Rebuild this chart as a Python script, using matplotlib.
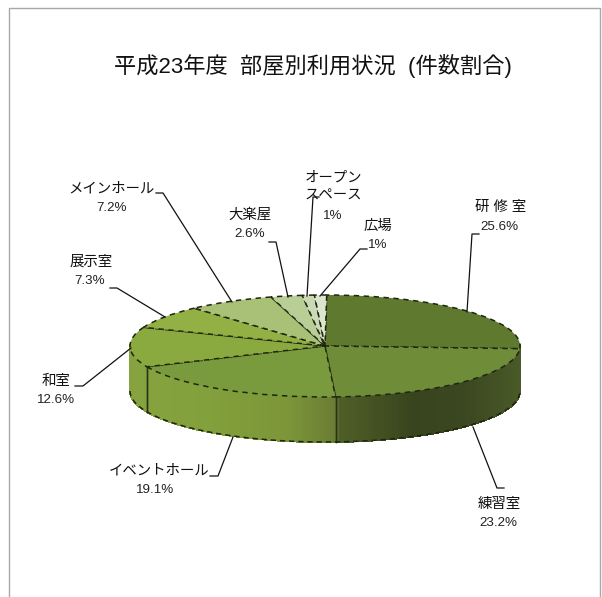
import numpy as np
import matplotlib
matplotlib.use("Agg")
import matplotlib.pyplot as plt
from matplotlib.colors import to_rgb

title = "平成23年度  部屋別利用状況  (件数割合)"
rooms = ["研 修 室", "練習室", "イベントホール", "和室", "展示室", "メインホール", "大楽屋", "オープン\nスペース", "広場"]
shares = [25.6, 23.2, 19.1, 12.6, 7.3, 7.2, 2.6, 1, 1]
share_text = ["25.6%", "23.2%", "19.1%", "12.6%", "7.3%", "7.2%", "2.6%", "1%", "1%"]
top_colors = ["#5f7a2e", "#6f8c39", "#7a9a3e", "#8aa93f", "#93b044", "#a9c077", "#b9cd96", "#cbdab4", "#dce6cf"]

W, H = 602, 597
FONT = ["Liberation Sans", "Noto Sans CJK JP", "DejaVu Sans"]
fig = plt.figure(figsize=(W / 100, H / 100), dpi=100, facecolor="white")

# pie top ellipse lives in its own stretched axes
px0, px1, py0, py1 = 130, 520, 295, 397
ax = fig.add_axes([px0 / W, 1 - py1 / H, (px1 - px0) / W, (py1 - py0) / H])
START = 89.5
edge = "#1d2710"
wedges, _ = ax.pie(shares, colors=top_colors, startangle=START, counterclock=False, radius=1,
                   wedgeprops=dict(edgecolor=edge, linewidth=1.1, linestyle=(0, (3.5, 3))))
ax.set_aspect("auto")
ax.set_xlim(-1, 1)
ax.set_ylim(-1, 1)
ax.patch.set_alpha(0)
for w in wedges:
    w.set_clip_on(False)
    w.set_zorder(5)

# side wall
depth = 45 / ((py1 - py0) / 2)
stops = [(-1.0, "#86a340"), (-0.6, "#82a03c"), (-0.2, "#7c9639"), (0.055, "#6a7c34"),
         (0.065, "#4f5f28"), (0.45, "#38441d"), (0.7, "#3a4720"), (1.0, "#4a5a28")]
sx = [s[0] for s in stops]
scol = np.array([to_rgb(s[1]) for s in stops])
fr = np.cumsum([0] + shares) / sum(shares)
bounds = np.deg2rad(START - fr * 360)
for a, b in zip(bounds[:-1], bounds[1:]):
    ts = np.linspace(a, b, max(int(abs(b - a) * 80), 2))
    for t0, t1 in zip(ts[:-1], ts[1:]):
        if np.sin(t0) > 0.02 and np.sin(t1) > 0.02:
            continue
        xm = (np.cos(t0) + np.cos(t1)) / 2
        c = [np.interp(xm, sx, scol[:, i]) for i in range(3)]
        xs = [np.cos(t0), np.cos(t1), np.cos(t1), np.cos(t0)]
        ys = [np.sin(t0), np.sin(t1), np.sin(t1) - depth, np.sin(t0) - depth]
        ax.fill(xs, ys, facecolor=c, edgecolor=c, lw=0.8, antialiased=False, clip_on=False, zorder=2)
    for t in (a, b):
        if np.sin(t) < -0.1:
            ax.plot([np.cos(t)] * 2, [np.sin(t), np.sin(t) - depth], color="#2a3416", lw=1.0,
                    clip_on=False, zorder=3)
tb = np.deg2rad(np.linspace(180, 360, 200))
ax.plot(np.cos(tb), np.sin(tb) - depth, color=edge, lw=1.1, ls=(0, (3.5, 2.5)), clip_on=False, zorder=4)

# overlay in pixel coordinates
ov = fig.add_axes([0, 0, 1, 1], zorder=10)
ov.set_xlim(0, W)
ov.set_ylim(H, 0)
ov.axis("off")
ov.plot([8.5, 8.5, 600, 600], [H, 7.5, 7.5, H], color="#a8a8a8", lw=1.0, clip_on=False)
ov.text(313, 66, title, ha="center", va="center", fontsize=16, family=FONT, color="#111111")

name_pos = [(501, 207), (499, 504), (159, 471), (56, 381), (91, 262), (111, 189), (250, 215), (333, 187), (378, 226)]
val_pos = [(499, 227), (498, 523), (155, 490), (56, 400), (90, 281), (112, 208), (250, 234), (333, 216), (378, 245)]
leaders = [
    [(479, 234), (472, 234), (467, 312)],
    [(504, 488), (497, 488), (473, 427)],
    [(210, 476), (218, 476), (233, 437)],
    [(75, 386), (83, 386), (131, 348)],
    [(110, 288), (117, 288), (165, 317)],
    [(156, 193), (163, 193), (232, 302)],
    [(269, 242), (276, 242), (288, 297)],
    [(319, 197), (313, 197), (307, 296)],
    [(367, 249), (360, 249), (320, 296)],
]
for name, val, np_, vp, l in zip(rooms, share_text, name_pos, val_pos, leaders):
    ov.text(*np_, name, ha="center", va="center", fontsize=10.4, family=FONT, color="#111111", linespacing=1.35)
    ov.text(*vp, val, ha="center", va="center", fontsize=9.6, family=FONT, color="#222222")
    ov.plot([p[0] for p in l], [p[1] for p in l], color="#111111", lw=0.9, clip_on=False)

fig.savefig("out.png", dpi=100)
